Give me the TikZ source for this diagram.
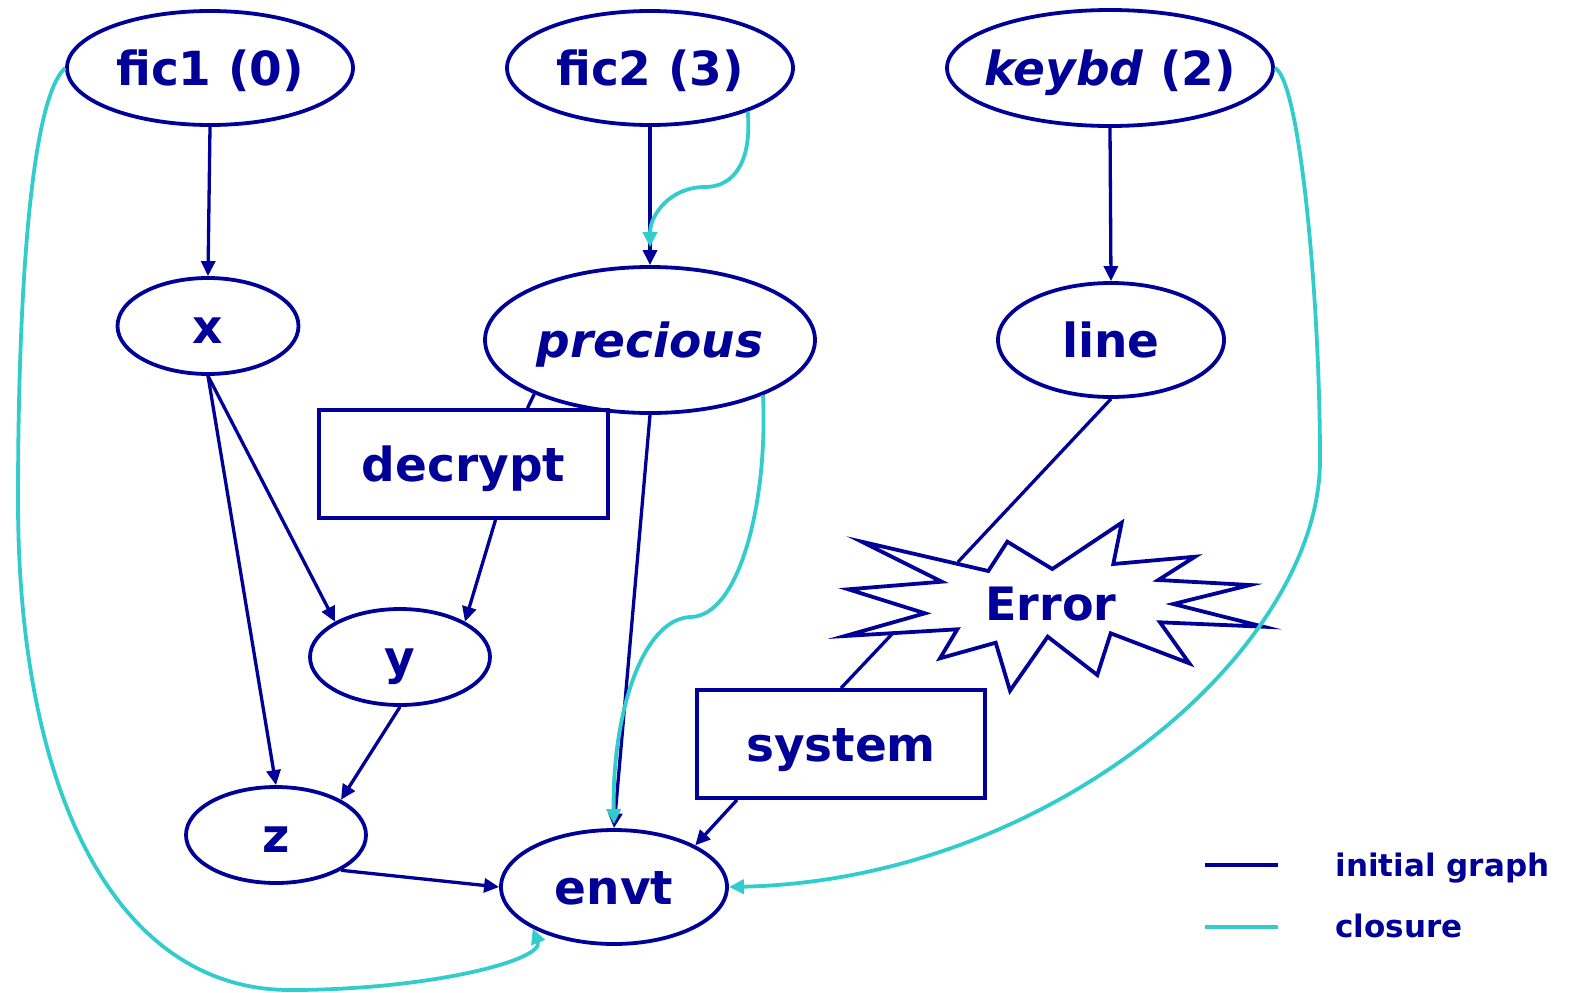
\documentclass[tikz,border=0pt]{standalone}
\usepackage{fontspec}
\setmainfont{DejaVu Sans}
\usetikzlibrary{shapes.geometric,arrows.meta}
\definecolor{ink}{RGB}{0,0,153}
\definecolor{clos}{RGB}{51,204,204}

\begin{document}
\begin{tikzpicture}[x=1pt,y=1pt,yscale=-1,xscale=1,
  every node/.style={text=ink,font=\fontsize{47}{56}\selectfont\bfseries,text height=34pt,text depth=0pt},
  vnode/.style={draw=ink,line width=3.8pt,ellipse,inner sep=0pt},
  fnode/.style={draw=ink,line width=3.8pt,rectangle,inner sep=0pt},
  init/.style={draw=ink,line width=3.3pt},
  initarr/.style={init,-{Triangle[length=15pt,width=14pt]}},
  clo/.style={draw=clos,line width=3.8pt},
  cloarr/.style={clo,-{Triangle[length=15pt,width=14pt]}},
  lgtext/.style={anchor=base west,font=\fontsize{31}{36}\selectfont\bfseries}
]
\useasboundingbox (0,0) rectangle (1569,993);

% Text Node
\node[vnode,minimum width=286pt,minimum height=114pt] (fic1) at (210,68) {fic1 (0)};
% Text Node
\node[vnode,minimum width=286pt,minimum height=114pt] (fic2) at (650,68) {fic2 (3)};
% Text Node
\node[vnode,inner xsep=-11pt,minimum width=326pt,minimum height=116pt] (keybd) at (1110,68) {\textit{keybd} (2)};
% Text Node
\node[vnode,minimum width=181pt,minimum height=96pt] (x) at (208,326) {x};
% Text Node
\node[vnode,minimum width=330pt,minimum height=146pt] (precious) at (650,340) {\textit{precious}};
% Text Node
\node[vnode,minimum width=226pt,minimum height=114pt] (line) at (1111,340) {line};
% Text Node
\node[fnode,minimum width=289pt,minimum height=108pt] (decrypt) at (463.5,464) {decrypt};
% Text Node
\node[vnode,minimum width=180pt,minimum height=96pt] (y) at (400,657) {y};
% Text Node
\node[fnode,minimum width=288pt,minimum height=108pt] (system) at (841,744) {system};
% Text Node
\node[vnode,minimum width=180pt,minimum height=96pt] (z) at (276,835) {z};
% Text Node
\node[vnode,minimum width=226pt,minimum height=114pt] (envt) at (614,887) {envt};

%Star [Error]
\draw[init,line width=3.8pt,line join=miter] (861.7,541.7) -- (988.3,571) -- (1007.3,541.7) -- (1052.3,569)
  -- (1121.7,522.7) -- (1113.3,564) -- (1195,556.7) -- (1158.3,580) -- (1250,585) -- (1173.3,604)
  -- (1263.3,626.7) -- (1160,622.3) -- (1189.3,663.3) -- (1110.7,633.3) -- (1097.3,675) -- (1047.7,636.7)
  -- (1010,690.7) -- (995.7,642.7) -- (940,658.3) -- (957.3,629.3) -- (845,636) -- (925,613.3)
  -- (848.3,589.3) -- (941.7,581.7) -- cycle;
\node[font=\fontsize{46}{54}\selectfont\bfseries] (err) at (1051,603) {Error};
\coordinate (errne) at (958,562);
\coordinate (errsw) at (893,633);

%Straight Lines
\draw[initarr] (fic1.south) -- (x.north);
\draw[initarr] (fic2.south) -- (precious.north);
\draw[initarr] (keybd.south) -- (line.north);
\draw[initarr] (x.south) -- (y.north west);
\draw[initarr] (x.south) -- (z.north);
\draw[init] (precious.205) -- ([xshift=64pt]decrypt.north);
\draw[initarr] ([xshift=32pt]decrypt.south) -- (y.north east);
\draw[initarr] (precious.south) -- (envt.north);
\draw[initarr] (y.south) -- (z.north east);
\draw[initarr] (z.south east) -- (envt.west);
\draw[init] (line.south) -- (errne);
\draw[init] (errsw) -- (system.north);
\draw[initarr] ([xshift=-104pt]system.south) -- (envt.north east);

%Curve Lines
\draw[cloarr] (fic1.west) .. controls (30,100) and (18,300) .. (18,500)
  .. controls (18,800) and (120,990) .. (290,990) .. controls (430,990) and (545,960) .. (envt.south west);
\draw[cloarr,shorten >=18pt] (fic2.-24) .. controls (752,160) and (735,187) .. (705,187)
  .. controls (670,187) and (650,215) .. (precious.north);
\draw[cloarr,shorten >=4pt] (precious.-26) .. controls (768,500) and (740,617) .. (690,617)
  .. controls (640,620) and (612,720) .. (envt.north);
\draw[cloarr] (keybd.east) .. controls (1300,80) and (1320,300) .. (1320,460)
  .. controls (1320,650) and (1050,880) .. (envt.east);

% Legend
\coordinate (lgA) at (1205,865);
\coordinate (lgB) at (1278,865);
\coordinate (lgC) at (1205,927);
\coordinate (lgD) at (1278,927);
\draw[init] (lgA) -- (lgB);
\draw[clo] (lgC) -- (lgD);
\node[lgtext] (lgtA) at (1332,876) {initial graph};
\node[lgtext] (lgtB) at (1332,937) {closure};

\end{tikzpicture}
\end{document}
